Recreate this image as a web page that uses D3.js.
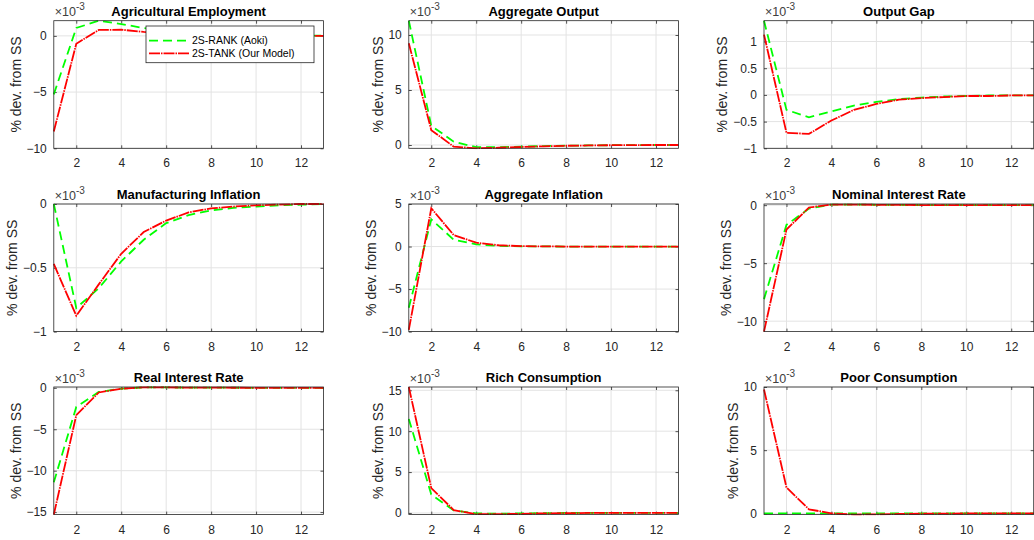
<!DOCTYPE html>
<html>
<head>
<meta charset="utf-8">
<script src="https://cdn.jsdelivr.net/npm/d3@7"></script>
<style>
    body { margin: 0; background: #fff; }
    svg text { font-family: "Liberation Sans", Arial, Helvetica, sans-serif; }
</style>
</head>
<body>
<svg id="fig" width="1034" height="540"></svg>
<script>
// horizon (quarters after the shock)
var periods = [1, 2, 3, 4, 5, 6, 7, 8, 9, 10, 11, 12, 13];
var xTicks = [2, 4, 6, 8, 10, 12];

var seriesNames = ["2S-RANK (Aoki)", "2S-TANK (Our Model)"];

var panelTitles = ["Agricultural Employment", "Aggregate Output", "Output Gap",
    "Manufacturing Inflation", "Aggregate Inflation", "Nominal Interest Rate",
    "Real Interest Rate", "Rich Consumption", "Poor Consumption"];

// values are in units of 1e-3
var agriRank = [-5.2, 0.7, 1.35, 1.05, 0.7, 0.45, 0.28, 0.17, 0.1, 0.06, 0.03, 0.02, 0.01];
var agriTank = [-8.5, -0.7, 0.53, 0.55, 0.35, 0.22, 0.13, 0.08, 0.05, 0.03, 0.02, 0.01, 0];

var outRank = [11.3, 1.75, 0.3, -0.2, -0.2, -0.15, -0.1, -0.06, -0.04, -0.02, -0.01, 0, 0];
var outTank = [9.25, 1.35, -0.15, -0.3, -0.25, -0.18, -0.12, -0.07, -0.04, -0.02, -0.01, 0, 0];

var gapRank = [1.39, -0.28, -0.42, -0.31, -0.2, -0.13, -0.08, -0.05, -0.03, -0.02, -0.01, -0.01, -0.01];
var gapTank = [1.13, -0.71, -0.73, -0.48, -0.28, -0.17, -0.09, -0.06, -0.04, -0.02, -0.02, -0.01, -0.01];

var mfgRank = [0, -0.815, -0.66, -0.45, -0.28, -0.15, -0.087, -0.05, -0.03, -0.02, -0.01, -0.005, 0];
var mfgTank = [-0.47, -0.876, -0.63, -0.39, -0.22, -0.13, -0.066, -0.034, -0.02, -0.01, -0.005, 0, 0];

var aggInfRank = [-7.2, 3.2, 0.8, 0.25, 0.08, 0.03, 0.01, 0, 0, 0, 0, 0, 0];
var aggInfTank = [-9.8, 4.5, 1.35, 0.45, 0.15, 0.05, 0.02, 0, 0, 0, 0, 0, 0];

var nomRank = [-8.1, -1.7, -0.3, 0.05, 0.05, 0.03, 0.02, 0.01, 0, 0, 0, 0, 0];
var nomTank = [-10.9, -2.1, -0.2, 0.05, 0.05, 0.03, 0.02, 0.01, 0, 0, 0, 0, 0];

var realRank = [-11.4, -2.3, -0.5, -0.1, 0.05, 0.05, 0.03, 0.02, 0.01, 0, 0, 0, 0];
var realTank = [-15.3, -3.3, -0.56, -0.1, 0.05, 0.05, 0.03, 0.02, 0.01, 0, 0, 0, 0];

var richRank = [11.5, 2.25, 0.3, -0.05, -0.1, -0.05, -0.02, 0, 0, 0, 0, 0, 0];
var richTank = [15.4, 3.05, 0.35, -0.15, -0.15, -0.1, -0.05, -0.02, 0, 0, 0, 0, 0];

var poorRank = [0, 0, 0, 0, 0, 0, 0, 0, 0, 0, 0, 0, 0];
var poorTank = [9.8, 2.05, 0.32, 0, -0.1, -0.08, -0.05, -0.03, -0.02, -0.01, 0, 0, 0];

// axis limits and y ticks of each panel
var yLimits = [[-10, 1.35], [-0.3, 11.3], [-1, 1.39], [-1, 0], [-10, 5],
    [-10.9, 0.1], [-15.3, 0.1], [-0.2, 15.4], [-0.1, 10]];
var yTicks = [[-10, -5, 0], [0, 5, 10], [-1, -0.5, 0, 0.5, 1], [-1, -0.5, 0],
    [-10, -5, 0, 5], [-10, -5, 0], [-15, -10, -5, 0], [0, 5, 10, 15], [0, 5, 10]];

var rankData = [agriRank, outRank, gapRank, mfgRank, aggInfRank, nomRank, realRank, richRank, poorRank];
var tankData = [agriTank, outTank, gapTank, mfgTank, aggInfTank, nomTank, realTank, richTank, poorTank];

var colLeft = [53.8, 408.8, 764];
var rowTop = [20.7, 204, 387];
var width = 269.7, height = 127.6;
var axisColor = "#262626", gridColor = "#e3e3e3";
var greenDash = "9,5", redDash = "11,1,1.5,1";

var svg = d3.select("#fig");

function fmt(v) {
    return (v < 0 ? "\u2212" : "") + Math.abs(v);
}

function drawPanel(i) {
    var left = colLeft[i % 3], top = rowTop[Math.floor(i / 3)];
    var g = svg.append("g").attr("transform", "translate(" + left + "," + top + ")");

    var x = d3.scaleLinear().domain([1, 13]).range([0, width]);
    var y = d3.scaleLinear().domain(yLimits[i]).range([height, 0]);

    g.append("clipPath").attr("id", "clip" + i)
        .append("rect").attr("x", -1).attr("y", -1)
        .attr("width", width + 2).attr("height", height + 2);

    // grid
    g.append("g").selectAll("line").data(xTicks).enter().append("line")
        .attr("x1", function (d) { return x(d); }).attr("x2", function (d) { return x(d); })
        .attr("y1", 0).attr("y2", height)
        .attr("stroke", gridColor).attr("stroke-width", 1);
    g.append("g").selectAll("line").data(yTicks[i]).enter().append("line")
        .attr("x1", 0).attr("x2", width)
        .attr("y1", function (d) { return y(d); }).attr("y2", function (d) { return y(d); })
        .attr("stroke", gridColor).attr("stroke-width", 1);

    // axes: bottom/left with labels, top/right with ticks only
    g.append("g").attr("transform", "translate(0," + height + ")")
        .call(d3.axisBottom(x).tickValues(xTicks).tickSizeInner(-3).tickSizeOuter(0).tickPadding(10.5));
    var leftAx = g.append("g")
        .call(d3.axisLeft(y).tickValues(yTicks[i]).tickFormat(fmt).tickSizeInner(-3).tickSizeOuter(0).tickPadding(7));
    g.append("g")
        .call(d3.axisTop(x).tickValues(xTicks).tickSizeInner(-3).tickSizeOuter(0).tickFormat(""));
    g.append("g").attr("transform", "translate(" + width + ",0)")
        .call(d3.axisRight(y).tickValues(yTicks[i]).tickSizeInner(-3).tickSizeOuter(0).tickFormat(""));

    g.selectAll(".domain").remove();
    g.selectAll(".tick line").attr("stroke", axisColor).attr("stroke-width", 0.8);
    g.selectAll(".tick text").attr("fill", axisColor).style("font-size", "12px")
        .style("font-family", "'Liberation Sans', Arial, sans-serif");

    // lines
    var line = d3.line()
        .x(function (d, k) { return x(periods[k]); })
        .y(function (d) { return y(d); });
    var plot = g.append("g").attr("clip-path", "url(#clip" + i + ")");
    plot.append("path").datum(rankData[i])
        .attr("d", line).attr("fill", "none")
        .attr("stroke", "#00ff00").attr("stroke-width", 1.8)
        .attr("stroke-dasharray", greenDash);
    plot.append("path").datum(tankData[i])
        .attr("d", line).attr("fill", "none")
        .attr("stroke", "#ff0000").attr("stroke-width", 1.8)
        .attr("stroke-dasharray", redDash);

    // box
    g.append("rect").attr("width", width).attr("height", height)
        .attr("fill", "none").attr("stroke", axisColor).attr("stroke-width", 0.8);

    // title
    g.append("text").attr("x", width / 2).attr("y", -5)
        .attr("text-anchor", "middle").attr("fill", "#000")
        .style("font-size", "13px").style("font-weight", "bold")
        .text(panelTitles[i]);

    // exponent
    var ex = g.append("text").attr("x", 1).attr("y", -4.5).attr("fill", "#404040").style("font-size", "12.5px");
    ex.append("tspan").text("\u00d710");
    ex.append("tspan").attr("dy", -6).style("font-size", "10px").text("-3");

    // y label, placed left of the widest tick label
    var tw = d3.max(leftAx.selectAll(".tick text").nodes(), function (n) { return n.getBBox().width; });
    var lx = -(tw + 7 + 10.5);
    g.append("text")
        .attr("transform", "translate(" + lx + "," + (height / 2) + ") rotate(-90)")
        .attr("text-anchor", "middle").attr("dy", "0.35em")
        .attr("fill", axisColor).style("font-size", "14px")
        .text("% dev. from SS");

    return g;
}

var panels = [];
for (var i = 0; i < 9; i++) {
    panels.push(drawPanel(i));
}

// legend inside the first panel
var legend = panels[0].append("g").attr("transform", "translate(" + (146 - colLeft[0]) + "," + (26 - rowTop[0]) + ")");
legend.append("rect").attr("width", 168).attr("height", 36.7)
    .attr("fill", "#fff").attr("stroke", axisColor).attr("stroke-width", 0.8);
var legendStyles = [["#00ff00", greenDash], ["#ff0000", redDash]];
seriesNames.forEach(function (name, k) {
    var ly = 14.7 + k * 12.6;
    legend.append("line").attr("x1", 3).attr("x2", 43).attr("y1", ly).attr("y2", ly)
        .attr("stroke", legendStyles[k][0]).attr("stroke-width", 1.8)
        .attr("stroke-dasharray", legendStyles[k][1]);
    legend.append("text").attr("x", 46).attr("y", ly).attr("dy", "0.35em")
        .attr("fill", "#000").style("font-size", "10.5px").text(name);
});
</script>
</body>
</html>
